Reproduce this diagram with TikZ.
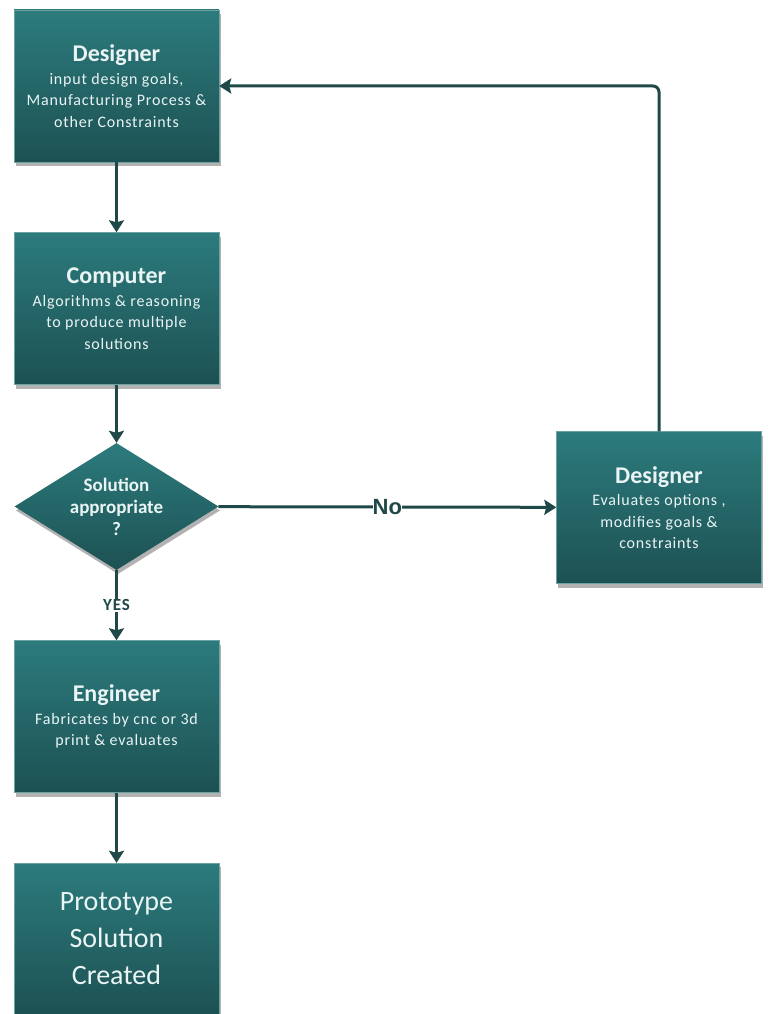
\documentclass[tikz,border=0pt]{standalone}
\usepackage{fontspec}
\setmainfont{Carlito}
\newfontfamily\spacedfont[LetterSpace=5]{Carlito}
\newfontfamily\labelfont{Liberation Sans}
\usetikzlibrary{arrows.meta,shapes.geometric,shadows}
\definecolor{boxtop}{HTML}{2C7B7D}
\definecolor{boxbot}{HTML}{1D5153}
\definecolor{linecol}{HTML}{1F4848}
\definecolor{txt}{HTML}{EAF4F4}
\begin{document}
\begin{tikzpicture}[x=1pt,y=-1pt,
  panel/.style={rectangle, minimum width=205pt, minimum height=152pt, inner sep=0pt,
    top color=boxtop, bottom color=boxbot, draw=boxtop!70!white, line width=0.4pt,
    text=txt, align=center, font=\spacedfont\fontsize{16}{21.5}\selectfont,
    drop shadow={shadow xshift=1.5pt, shadow yshift=-4pt, opacity=0.3, fill=black}},
  decide/.style={diamond, minimum width=204pt, minimum height=127pt, inner sep=0pt,
    top color=boxtop, bottom color=boxbot,
    drop shadow={shadow xshift=1.5pt, shadow yshift=-4pt, opacity=0.3, fill=black}},
  decidetext/.style={text=txt, align=center, font=\fontsize{19}{22}\selectfont\bfseries},
  flow/.style={draw=linecol, line width=3pt,
    -{Stealth[length=12pt, width=15pt, inset=2pt]}},
  lbl/.style={fill=white, text=linecol, inner sep=1pt}
]
\useasboundingbox (0,0) rectangle (768,1014);

\newcommand{\hd}[1]{{\rmfamily\fontsize{24}{26}\selectfont\bfseries #1}\\[1pt]}

\node[panel] (goals) at (116.5,86)
  {\hd{Designer}input design goals,\\ Manufacturing Process \&\\ other Constraints};
\node[panel] (comp) at (116.5,308.5)
  {\hd{Computer}Algorithms \& reasoning\\ to produce multiple\\ solutions};
\node[decide, label={[decidetext]center:Solution\\ appropriate\\ ?}] (ok) at (116.5,506.5) {};
\node[panel] (eng) at (116.5,716.5)
  {\hd{Engineer}Fabricates by cnc or 3d\\ print \& evaluates};
\node[panel, font=\rmfamily\fontsize{28}{37}\selectfont] (proto) at (116.5,939)
  {Prototype\\ Solution\\ Created};
\node[panel] (eval) at (659,507.5)
  {\hd{Designer}Evaluates options ,\\ modifies goals \&\\ constraints};

\draw[flow] (goals) -- (comp);
\draw[flow] (comp) -- (ok);
\draw[flow] (ok) -- node[lbl, font=\spacedfont\fontsize{17}{18}\selectfont\bfseries] {YES} (eng);
\draw[flow] (eng) -- (proto);
\draw[flow] (ok) -- node[lbl, inner sep=0pt, font=\labelfont\fontsize{22}{22}\selectfont\bfseries] {No} (eval);
\draw[flow, rounded corners=6pt] (eval.north) |- (goals.east);
\end{tikzpicture}
\end{document}
